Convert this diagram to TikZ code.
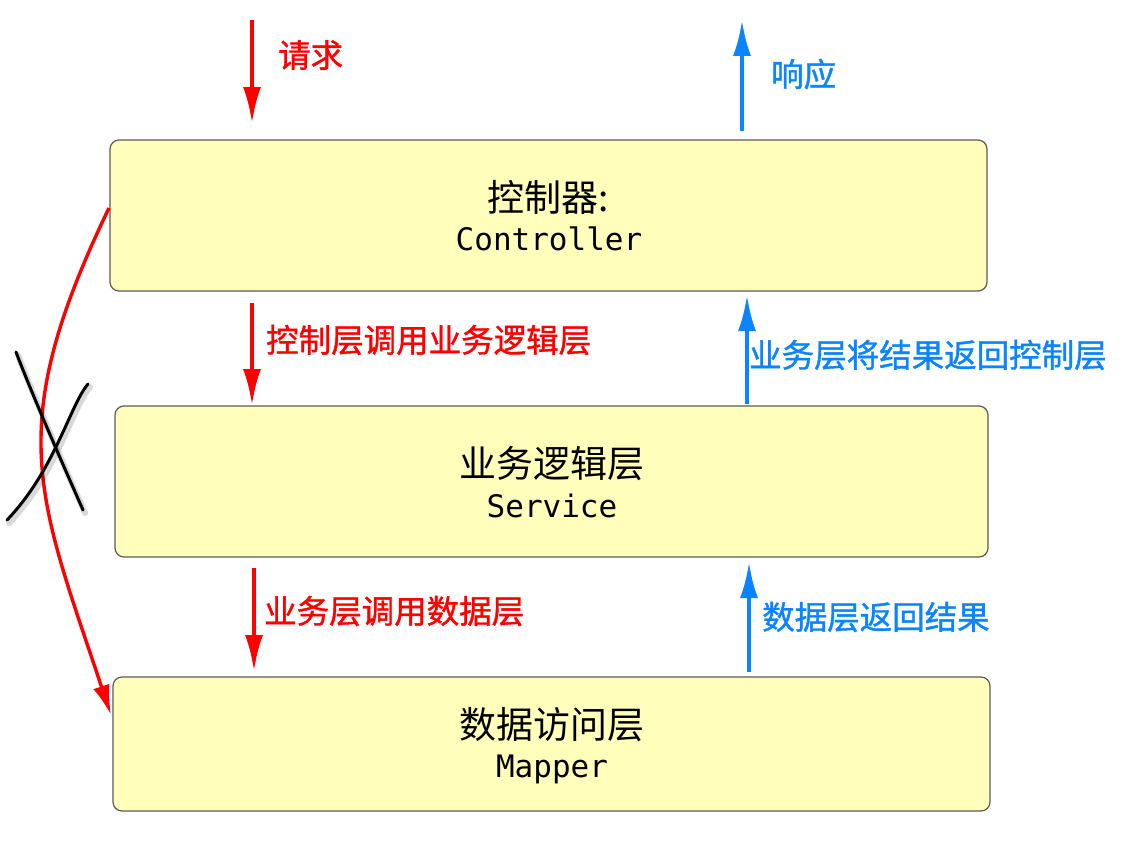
\documentclass[tikz,border=0pt]{standalone}
\usepackage{fontspec}
\newfontfamily\cjk{Noto Sans CJK SC}
\newfontfamily\cjklbl{Noto Sans CJK SC}[FakeBold=1.2]
\newfontfamily\mono{DejaVu Sans Mono}
\usetikzlibrary{arrows.meta}
\definecolor{boxfill}{RGB}{255,255,187}
\definecolor{boxline}{RGB}{90,90,90}
\definecolor{myred}{RGB}{255,0,0}
\definecolor{myblue}{RGB}{10,132,255}
\tikzset{
  layer/.style={draw=boxline, line width=1.2pt, fill=boxfill, rounded corners=9pt, inner sep=0pt},
  cjktxt/.style={font=\cjk\fontsize{37}{40}\selectfont, inner sep=0pt},
  monotxt/.style={font=\mono\fontsize{31}{34}\selectfont, inner sep=0pt},
  redlbl/.style={font=\cjklbl\fontsize{32.5}{35}\selectfont, text=myred, inner sep=0pt, anchor=west},
  bluelbl/.style={font=\cjklbl\fontsize{32.5}{35}\selectfont, text=myblue, inner sep=0pt, anchor=west},
  redarr/.style={draw=myred, line width=4pt, -{Latex[length=36pt,width=18pt]}},
  bluearr/.style={draw=myblue, line width=4pt, -{Latex[length=36pt,width=18pt]}},
  xstroke/.style={draw=black, line width=3pt, line cap=round, line join=round},
  xshadow/.style={draw=black, opacity=0.15, line width=6pt, line cap=round, line join=round},
}
\begin{document}
\begin{tikzpicture}[x=1pt, y=-1pt]
\useasboundingbox (0,0) rectangle (1124,851);
% boxes
\node[layer, minimum width=877pt, minimum height=151pt] (ctrl) at (548.5,215.5) {};
\node[layer, minimum width=873pt, minimum height=151pt] (svc) at (551.5,481.5) {};
\node[layer, minimum width=877pt, minimum height=134pt] (map) at (551.5,744) {};
\node[cjktxt] (ctrlA) at (548,197) {控制器:};
\node[monotxt] (ctrlB) at (549,239) {Controller};
\node[cjktxt] (svcA) at (551.5,464) {业务逻辑层};
\node[monotxt] (svcB) at (552,506) {Service};
\node[cjktxt] (mapA) at (551.5,725) {数据访问层};
\node[monotxt] (mapB) at (552,769) {Mapper};
% arrow end points
\coordinate (reqS) at (252,20);
\coordinate (reqE) at (252,123);
\coordinate (resS) at (742,131);
\coordinate (resE) at (742,20);
\coordinate (c2sS) at (252,303);
\coordinate (c2sE) at (252,405);
\coordinate (s2cS) at (747,404);
\coordinate (s2cE) at (747,295);
\coordinate (s2mS) at (254,568);
\coordinate (s2mE) at (254,671);
\coordinate (m2sS) at (749,672);
\coordinate (m2sE) at (749,562);
\draw[redarr] (reqS) -- (reqE);
\draw[bluearr] (resS) -- (resE);
\draw[redarr] (c2sS) -- (c2sE);
\draw[bluearr] (s2cS) -- (s2cE);
\draw[redarr] (s2mS) -- (s2mE);
\draw[bluearr] (m2sS) -- (m2sE);
% labels
\node[redlbl] (lreq) at (278,55) {请求};
\node[bluelbl] (lres) at (771,74) {响应};
\node[redlbl] (lc2s) at (266,340) {控制层调用业务逻辑层};
\node[bluelbl] (ls2c) at (749,355) {业务层将结果返回控制层};
\node[redlbl] (ls2m) at (264,611) {业务层调用数据层};
\node[bluelbl] (lm2s) at (762,617) {数据层返回结果};
% forbidden direct call
\coordinate (skipS) at (109,208);
\coordinate (skipE) at (111,715);
\draw[draw=myred, line width=3.4pt, -{Latex[length=30pt,width=17pt]}]
  (skipS) .. controls (3,428) and (37,494) .. (skipE);
% cross mark
\draw[xshadow, shift={(2,3)}] (16,352) .. controls (32,394) and (57,451) .. (83,510);
\draw[xshadow, shift={(2,3)}] (88,384) .. controls (70,405) and (55,470) .. (7,520);
\draw[xstroke] (16,352) .. controls (32,394) and (57,451) .. (83,510);
\draw[xstroke] (88,384) .. controls (70,405) and (55,470) .. (7,520);
\end{tikzpicture}
\end{document}
